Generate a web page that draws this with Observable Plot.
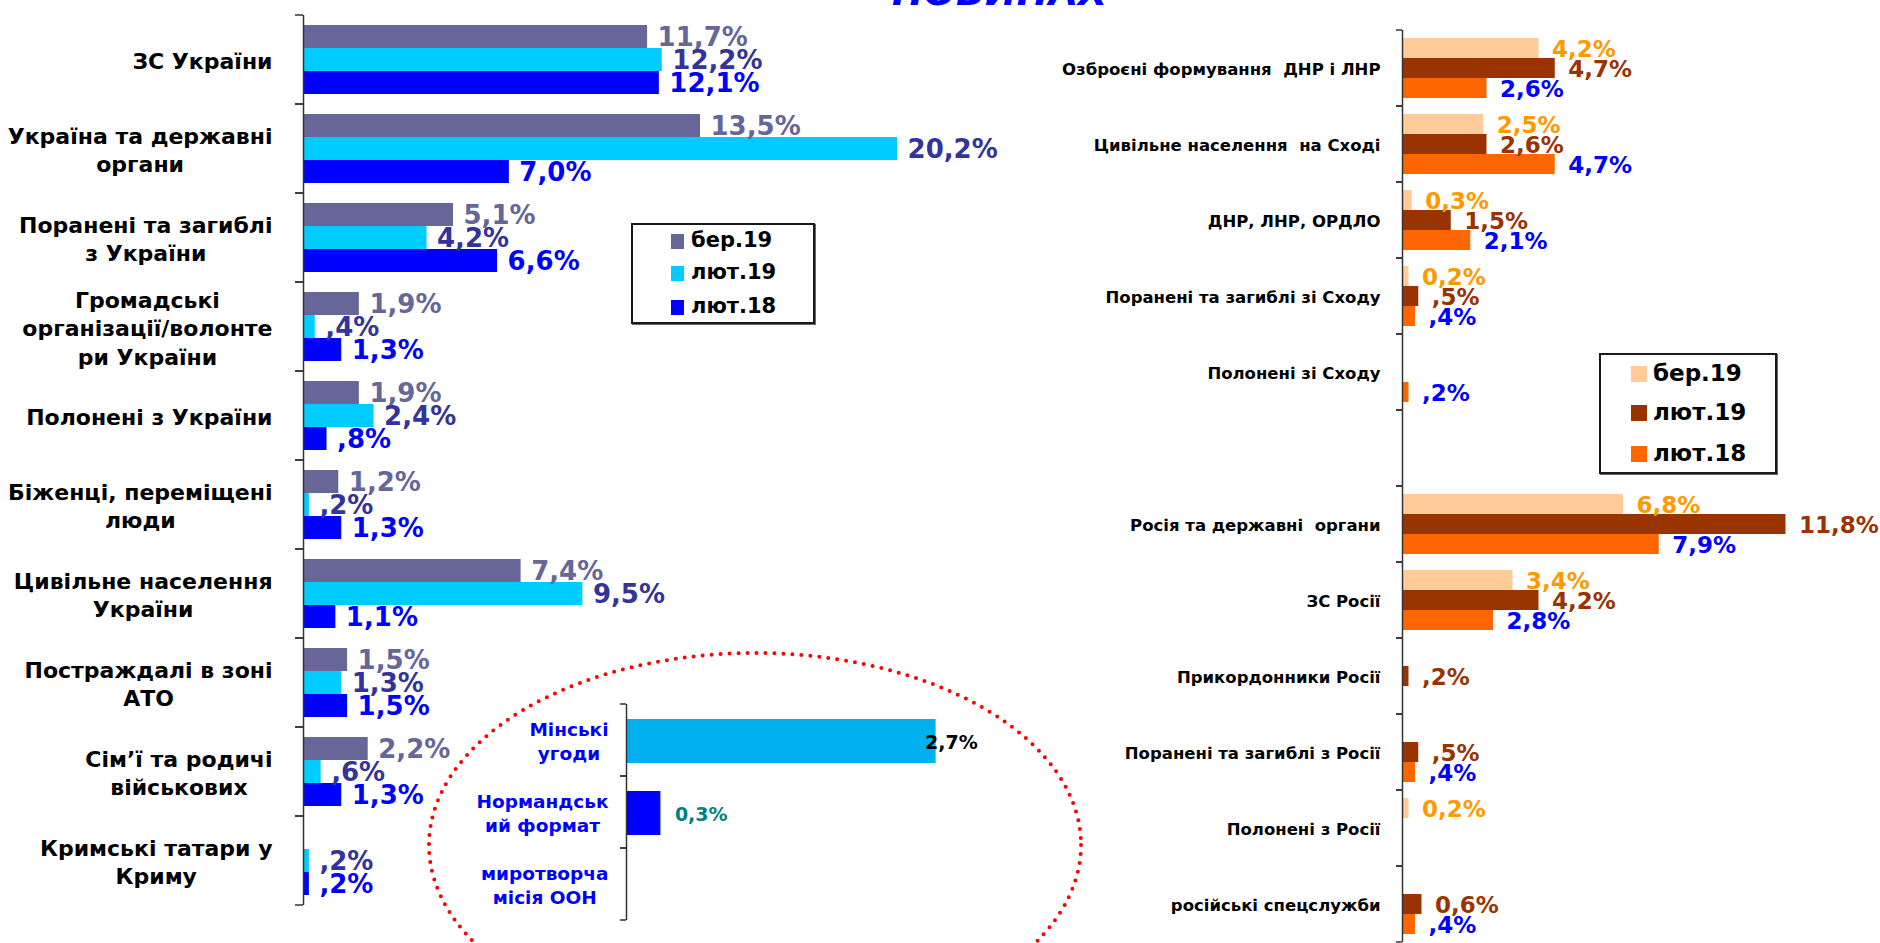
<!DOCTYPE html>
<html>
<head>
<meta charset="utf-8">
<script src="https://cdn.jsdelivr.net/npm/d3@7"></script>
<script src="https://cdn.jsdelivr.net/npm/@observablehq/plot@0.6"></script>
<style>
  html, body { margin: 0; padding: 0; background: #fff; width: 1880px; height: 943px; overflow: hidden; }
  #root { position: relative; width: 1880px; height: 943px; overflow: hidden; }
  .legend { position: absolute; box-sizing: border-box; border: 2px solid #1a1a1a; box-shadow: 1px 1px 0 #666; background: #fff;
            font-family: "DejaVu Sans", sans-serif; font-weight: bold; color: #000; }
  .legend .sw { position: absolute; }
  .legend .tx { position: absolute; white-space: nowrap; }
</style>
</head>
<body>
<div id="root"></div>
<script>
// ---------------- DATA ----------------
const series = ["бер.19", "лют.19", "лют.18"];

// Left chart (Ukraine side)
const leftCategories = [
  "ЗС України",
  "Україна та державні\nоргани",
  "Поранені та загиблі\nз України",
  "Громадські\nорганізації/волонте\nри України",
  "Полонені з України",
  "Біженці, переміщені\nлюди",
  "Цивільне населення\nУкраїни",
  "Постраждалі в зоні\nАТО",
  "Сім’ї та родичі\nвійськових",
  "Кримські татари у\nКриму"
];
const leftBer19 = [11.7, 13.5, 5.1, 1.9, 1.9, 1.2, 7.4, 1.5, 2.2, null];
const leftLut19 = [12.2, 20.2, 4.2, 0.4, 2.4, 0.2, 9.5, 1.3, 0.6, 0.2];
const leftLut18 = [12.1, 7.0, 6.6, 1.3, 0.8, 1.3, 1.1, 1.5, 1.3, 0.2];
const leftLabelsBer19 = ["11,7%", "13,5%", "5,1%", "1,9%", "1,9%", "1,2%", "7,4%", "1,5%", "2,2%", null];
const leftLabelsLut19 = ["12,2%", "20,2%", "4,2%", ",4%", "2,4%", ",2%", "9,5%", "1,3%", ",6%", ",2%"];
const leftLabelsLut18 = ["12,1%", "7,0%", "6,6%", "1,3%", ",8%", "1,3%", "1,1%", "1,5%", "1,3%", ",2%"];
const leftBarColors = ["#666699", "#00CCFF", "#0000FF"];
const leftLabelColors = ["#666699", "#333399", "#0000FF"];

// Right chart (East / Russia side)
const rightCategories = [
  "Озброєні формування  ДНР і ЛНР",
  "Цивільне населення  на Сході",
  "ДНР, ЛНР, ОРДЛО",
  "Поранені та загиблі зі Сходу",
  "Полонені зі Сходу",
  "",
  "Росія та державні  органи",
  "ЗС Росії",
  "Прикордонники Росії",
  "Поранені та загиблі з Росії",
  "Полонені з Росії",
  "російські спецслужби"
];
const rightBer19 = [4.2, 2.5, 0.3, 0.2, null, null, 6.8, 3.4, null, null, 0.2, null];
const rightLut19 = [4.7, 2.6, 1.5, 0.5, null, null, 11.8, 4.2, 0.2, 0.5, null, 0.6];
const rightLut18 = [2.6, 4.7, 2.1, 0.4, 0.2, null, 7.9, 2.8, null, 0.4, null, 0.4];
const rightLabelsBer19 = ["4,2%", "2,5%", "0,3%", "0,2%", null, null, "6,8%", "3,4%", null, null, "0,2%", null];
const rightLabelsLut19 = ["4,7%", "2,6%", "1,5%", ",5%", null, null, "11,8%", "4,2%", ",2%", ",5%", null, "0,6%"];
const rightLabelsLut18 = ["2,6%", "4,7%", "2,1%", ",4%", ",2%", null, "7,9%", "2,8%", null, ",4%", null, ",4%"];
const rightBarColors = ["#FFCC99", "#993300", "#FF6600"];
const rightLabelColors = ["#FF9900", "#993300", "#0000FF"];

// Inset chart (peace formats)
const insetCategories = ["Мінські\nугоди", "Нормандськ\nий формат", "миротворча\nмісія ООН"];
const insetValues = [2.7, 0.3, null];
const insetLabels = ["2,7%", "0,3%", null];
const insetBarColors = ["#00B0F0", "#0000FF", "#0000FF"];
const insetLabelColors = ["#000000", "#008080", "#000000"];

const titleText = "НОВИНАХ";

// ---------------- HELPERS ----------------
const FONT = "DejaVu Sans";
const root = document.getElementById("root");
const ctx = document.createElement("canvas").getContext("2d");
function blockWidth(text, size) {
  ctx.font = `bold ${size}px "${FONT}"`;
  return d3.max(text.split("\n"), s => ctx.measureText(s).width) || 0;
}
function place(node, left, top) {
  node.style.position = "absolute";
  node.style.left = left + "px";
  node.style.top = top + "px";
  node.style.maxWidth = "none";
  root.appendChild(node);
  return node;
}
function rowsFor(cats, valueArrays, labelArrays) {
  const rows = [];
  cats.forEach((c, i) => series.forEach((s, j) => {
    const v = valueArrays[j][i];
    if (v != null) rows.push({cat: c, series: s, value: v, label: labelArrays[j][i]});
  }));
  return rows;
}
// category-boundary tick marks (Excel style), drawn per facet from the facet's dimensions
function boundaryTicks(len, stroke) {
  return (index, scales, values, dims) => {
    const g = d3.create("svg:g").attr("stroke", stroke).attr("stroke-width", 1.5);
    const x = dims.marginLeft;
    for (const y of [dims.marginTop, dims.height - dims.marginBottom]) {
      g.append("line").attr("x1", x - len).attr("x2", x).attr("y1", y).attr("y2", y);
    }
    return g.node();
  };
}
function categoryLabels(cats, {size, gap, lineHeight, fill}) {
  return cats.map(c => Plot.text([c], {
    fy: d => d, text: d => d, frameAnchor: "left", textAnchor: "middle", lineAnchor: "middle",
    lineHeight, dx: -(gap + blockWidth(c, size) / 2), fontSize: size, fontWeight: "bold",
    fontFamily: FONT, fill
  }));
}
function groupedChart(cfg) {
  const marks = [];
  series.forEach((s, j) => {
    marks.push(Plot.barX(cfg.rows.filter(d => d.series === s),
      {x: "value", y: "series", fy: "cat", fill: cfg.barColors[j]}));
  });
  series.forEach((s, j) => {
    marks.push(Plot.text(cfg.rows.filter(d => d.series === s), {
      x: "value", y: "series", fy: "cat", text: "label", fill: cfg.labelColors[j],
      dx: cfg.labelDx, dy: cfg.labelDy, textAnchor: "start", fontSize: cfg.labelSize,
      fontWeight: "bold", fontFamily: FONT
    }));
  });
  marks.push(Plot.ruleX(cfg.cats, {x: 0, fy: d => d, stroke: "#333", strokeWidth: 1.5}));
  marks.push(boundaryTicks(cfg.tickLen, "#333"));
  marks.push(...categoryLabels(cfg.cats, cfg.catStyle));
  return Plot.plot({
    width: cfg.width, height: cfg.height,
    marginLeft: cfg.marginLeft, marginRight: cfg.marginRight,
    marginTop: cfg.marginTop, marginBottom: cfg.marginBottom,
    x: {domain: cfg.xDomain, axis: null},
    y: {domain: series, paddingInner: 0, paddingOuter: cfg.yPad, axis: null},
    fy: {domain: cfg.cats, padding: 0, axis: null},
    style: {background: "transparent", overflow: "visible"},
    marks
  });
}

// ---------------- TITLE (clipped at top) ----------------
const titleSvg = d3.create("svg").attr("width", 1880).attr("height", 20);
titleSvg.append("text").attr("x", 892).attr("y", 5).attr("fill", "#0000FF")
  .attr("font-family", FONT).attr("font-weight", "bold").attr("font-style", "italic")
  .attr("font-size", 38).text(titleText);
place(titleSvg.node(), 0, 0);

// ---------------- LEFT CHART ----------------
const leftRows = rowsFor(leftCategories, [leftBer19, leftLut19, leftLut18],
                         [leftLabelsBer19, leftLabelsLut19, leftLabelsLut18]);
place(groupedChart({
  rows: leftRows, cats: leftCategories,
  width: 1010, height: 943, marginLeft: 303, marginRight: 60, marginTop: 12, marginBottom: 36,
  xDomain: [0, 22], yPad: 0.365,
  barColors: leftBarColors, labelColors: leftLabelColors,
  labelDx: 10, labelDy: 1, labelSize: 26, tickLen: 8,
  catStyle: {size: 22, gap: 31, lineHeight: 1.3, fill: "#000"}
}), 0, 0);

// ---------------- RED DOTTED ELLIPSE ----------------
const ell = d3.create("svg").attr("width", 1880).attr("height", 943);
ell.append("ellipse").attr("cx", 755).attr("cy", 845).attr("rx", 326).attr("ry", 192)
  .attr("fill", "none").attr("stroke", "#FF0000").attr("stroke-width", 4)
  .attr("stroke-linecap", "round").attr("stroke-dasharray", "0 9");
place(ell.node(), 0, 0).style.pointerEvents = "none";

// ---------------- INSET CHART ----------------
const insetRows = insetCategories.map((c, i) => ({cat: c, value: insetValues[i], label: insetLabels[i], i}))
  .filter(d => d.value != null);
const insetDx = [-11, 14];
const insetMarks = [];
insetRows.forEach(r => {
  insetMarks.push(Plot.barX([r], {x: "value", fy: "cat", fill: insetBarColors[r.i], insetTop: 15, insetBottom: 13}));
  insetMarks.push(Plot.text([r], {x: "value", fy: "cat", text: "label", fill: insetLabelColors[r.i],
    frameAnchor: "middle", dx: insetDx[r.i], dy: 2, textAnchor: "start", fontSize: 19, fontWeight: "bold", fontFamily: FONT}));
});
insetMarks.push(Plot.ruleX(insetCategories, {x: 0, fy: d => d, stroke: "#333", strokeWidth: 1.5}));
insetMarks.push(boundaryTicks(6, "#333"));
insetMarks.push(...categoryLabels(insetCategories, {size: 18.5, gap: 18, lineHeight: 1.3, fill: "#0000FF"}));
place(Plot.plot({
  width: 600, height: 300, marginLeft: 206, marginRight: 50, marginTop: 64, marginBottom: 20,
  x: {domain: [0, 3], axis: null},
  fy: {domain: insetCategories, padding: 0, axis: null},
  style: {background: "transparent", overflow: "visible"},
  marks: insetMarks
}), 420, 640);

// ---------------- RIGHT CHART ----------------
const rightRows = rowsFor(rightCategories, [rightBer19, rightLut19, rightLut18],
                          [rightLabelsBer19, rightLabelsLut19, rightLabelsLut18]);
place(groupedChart({
  rows: rightRows, cats: rightCategories,
  width: 880, height: 960, marginLeft: 402, marginRight: 23, marginTop: 26, marginBottom: 14,
  xDomain: [0, 14], yPad: 0.344,
  barColors: rightBarColors, labelColors: rightLabelColors,
  labelDx: 13, labelDy: 1, labelSize: 23, tickLen: 6,
  catStyle: {size: 16.5, gap: 22, lineHeight: 1.2, fill: "#000"}
}), 1000, 0);

// ---------------- LEGENDS ----------------
function legend({left, top, width, height, colors, swX, swW, swH, txX, rowCenters, size}) {
  const box = document.createElement("div");
  box.className = "legend";
  Object.assign(box.style, {left: left + "px", top: top + "px", width: width + "px", height: height + "px"});
  series.forEach((s, j) => {
    const sw = document.createElement("div");
    sw.className = "sw";
    Object.assign(sw.style, {left: swX + "px", top: (rowCenters[j] - swH / 2) + "px", width: swW + "px", height: swH + "px", background: colors[j]});
    const tx = document.createElement("div");
    tx.className = "tx";
    Object.assign(tx.style, {left: txX + "px", top: (rowCenters[j] - size * 0.6) + "px", fontSize: size + "px", lineHeight: (size * 1.2) + "px"});
    tx.textContent = s;
    box.appendChild(sw); box.appendChild(tx);
  });
  root.appendChild(box);
}
legend({left: 631, top: 223, width: 184, height: 101, colors: leftBarColors,
        swX: 38, swW: 13, swH: 15, txX: 58, rowCenters: [16, 48, 82], size: 21});
legend({left: 1599, top: 353, width: 178, height: 121, colors: rightBarColors,
        swX: 30, swW: 16, swH: 16, txX: 52, rowCenters: [19, 58, 99], size: 23});
</script>
</body>
</html>
